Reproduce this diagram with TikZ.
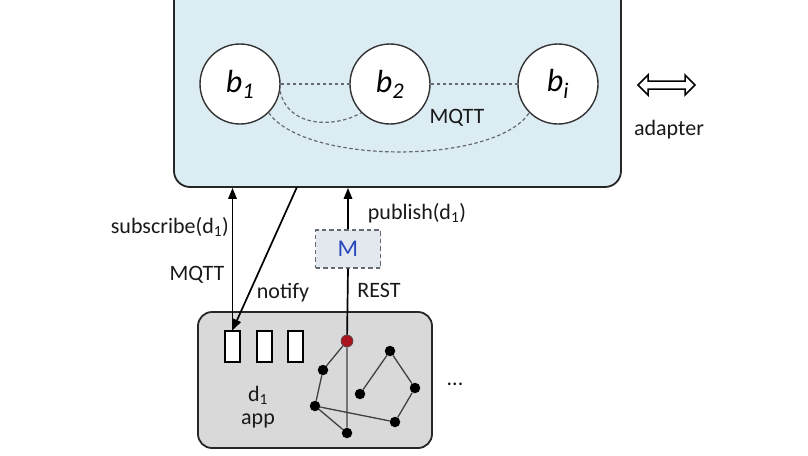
\documentclass[tikz,border=0pt]{standalone}
\usepackage{fontspec}
\setmainfont{Carlito}
\usetikzlibrary{arrows.meta}
\definecolor{topfill}{RGB}{220,236,243}
\definecolor{botfill}{RGB}{217,217,217}
\definecolor{mfill}{RGB}{226,232,238}
\definecolor{mblue}{RGB}{40,70,190}
\definecolor{dgray}{RGB}{100,105,115}
\definecolor{dotred}{RGB}{170,20,30}
\begin{document}
\begin{tikzpicture}[x=1pt,y=-1pt,
  lbl/.style={font=\fontsize{22}{24}\selectfont, text=black!90, inner sep=0pt},
  broker/.style={circle, draw=black!80, line width=1.4pt, fill=white, minimum size=80pt, inner sep=0pt, font=\fontsize{32}{34}\selectfont\itshape},
  slot/.style={draw=black, line width=1.5pt, fill=white, minimum width=15pt, minimum height=31pt, inner sep=0pt},
  gnode/.style={circle, fill=black, minimum size=10.5pt, inner sep=0pt},
  conn/.style={line width=1.7pt, -{Triangle[length=11pt,width=8.5pt]}},
  mesh/.style={dgray, line width=1.2pt, dash pattern=on 3.5pt off 2.5pt},
  edge/.style={draw=black!75, line width=1.3pt}]
\useasboundingbox (0,0) rectangle (808,455);
% top box
\node[draw=black!85, line width=1.8pt, fill=topfill, rounded corners=16pt, minimum width=447pt, minimum height=210pt, inner sep=0pt] (top) at (397.5,82) {};
% brokers
\node[broker] (b1) at (240,84) {b\textsubscript{1}};
\node[broker] (b2) at (390,84) {b\textsubscript{2}};
\node[broker] (bi) at (558,84) {b\textsubscript{i}};
\draw[mesh] (b1) -- (b2);
\draw[mesh] (b2) -- (bi);
\draw[mesh] (b1.-10) .. controls (288,128) and (335,128) .. (b2.-135);
\draw[mesh] (b1.-45) .. controls (305,165) and (495,165) .. (bi.-135);
\node[lbl] (mqtttop) at (457,118) {MQTT};
% adapter
\draw[line width=1.5pt, fill=white, line join=miter] (638,85) -- (648,75) -- (648,81) -- (685,81) -- (685,75) -- (695,85) -- (685,95) -- (685,89) -- (648,89) -- (648,95) -- cycle;
\node[lbl] (adapter) at (669,130) {adapter};
% bottom box
\node[draw=black!85, line width=1.8pt, fill=botfill, rounded corners=14pt, minimum width=234pt, minimum height=136pt, inner sep=0pt] (bot) at (315,380) {};
\node[slot] (r1) at (232.5,346.5) {};
\node[slot] (r2) at (264.5,346.5) {};
\node[slot] (r3) at (295.5,346.5) {};
\node[lbl] (d1) at (258,395) {d\textsubscript{1}};
\node[lbl] (app) at (258,421) {app};
% graph
\node[gnode] (nA) at (323,370) {};
\node[gnode] (nB) at (315,406) {};
\node[gnode] (nC) at (347,433) {};
\node[gnode] (nD) at (360,394) {};
\node[gnode] (nE) at (390,351) {};
\node[gnode] (nF) at (415,388) {};
\node[gnode] (nG) at (395,422) {};
\node[circle, fill=dotred, draw=black!70, line width=0.6pt, minimum size=12pt, inner sep=0pt] (red) at (347,341) {};
\draw[edge] (red) -- (nA) -- (nB) -- (nC) -- (red);
\draw[edge] (nB) -- (nG) -- (nF) -- (nE) -- (nD);
\node[lbl] (dots) at (455,384) {...};
% M box
\node[draw=dgray, line width=1.5pt, dash pattern=on 4.5pt off 3pt, fill=mfill, minimum width=65pt, minimum height=38pt, inner sep=0pt, font=\fontsize{24}{26}\selectfont, text=mblue] (M) at (348,249) {M};
% connectors
\coordinate (ns) at (297,187);
\draw[conn] (r1.north) -- (r1.north |- top.south);
\draw[conn] (ns) -- (r1.north);
\draw[conn] (M.north) -- (M.north |- top.south);
\draw[line width=1.7pt] (red) -- (M.south);
% labels
\node[lbl, anchor=east] (sub) at (229,227) {subscribe(d\textsubscript{1})};
\node[lbl] (mq) at (197,275) {MQTT};
\node[lbl] (notify) at (283,293) {notify};
\node[lbl] (pub) at (417,213) {publish(d\textsubscript{1})};
\node[lbl] (rest) at (379,290) {REST};
\end{tikzpicture}
\end{document}
